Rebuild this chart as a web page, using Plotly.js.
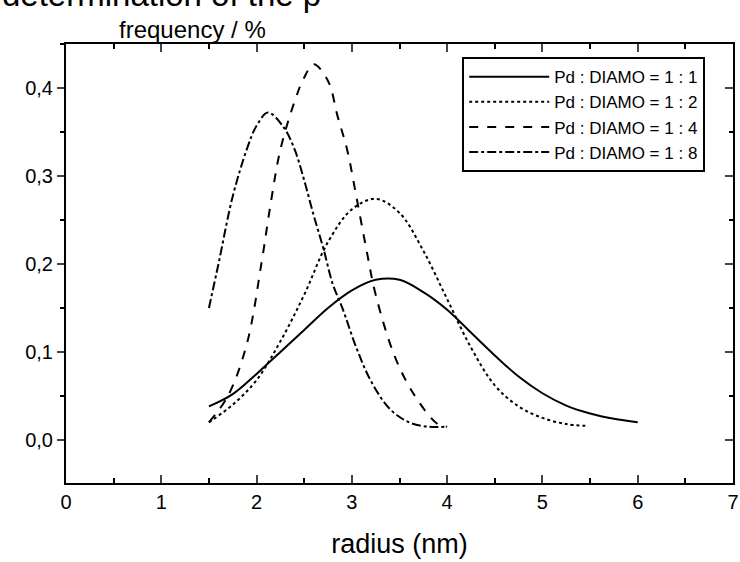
<!DOCTYPE html>
<html>
<head>
<meta charset="utf-8">
<script src="https://cdn.plot.ly/plotly-3.0.1.min.js"></script>
<style>html,body{margin:0;padding:0;background:#fff;}#chart{width:740px;height:562px;}</style>
</head>
<body>
<div id="chart"></div>
<script>
// Pd : DIAMO = 1 : 1 (solid)
const r11 = [1.5, 1.75, 2.0, 2.25, 2.5, 2.75, 3.0, 3.25, 3.5, 3.75, 4.0, 4.25, 4.5, 4.75, 5.0, 5.25, 5.5, 5.75, 6.0];
const f11 = [0.038, 0.052, 0.075, 0.100, 0.125, 0.150, 0.170, 0.182, 0.182, 0.168, 0.148, 0.122, 0.096, 0.072, 0.053, 0.039, 0.030, 0.024, 0.020];
// Pd : DIAMO = 1 : 2 (dotted)
const r12 = [1.5, 1.75, 2.0, 2.25, 2.5, 2.75, 3.0, 3.25, 3.5, 3.75, 4.0, 4.25, 4.5, 4.75, 5.0, 5.25, 5.45];
const f12 = [0.020, 0.040, 0.068, 0.112, 0.165, 0.225, 0.262, 0.274, 0.258, 0.215, 0.160, 0.105, 0.062, 0.038, 0.025, 0.018, 0.016];
// Pd : DIAMO = 1 : 4 (dashed)
const r14 = [1.5, 1.7, 1.9, 2.05, 2.15, 2.25, 2.4, 2.5, 2.6, 2.75, 2.85, 2.95, 3.05, 3.15, 3.25, 3.45, 3.65, 3.9, 4.0];
const f14 = [0.020, 0.050, 0.110, 0.200, 0.270, 0.330, 0.385, 0.412, 0.427, 0.408, 0.368, 0.330, 0.275, 0.218, 0.165, 0.095, 0.052, 0.018, 0.015];
// Pd : DIAMO = 1 : 8 (dash-dot)
const r18 = [1.5, 1.6, 1.75, 1.9, 2.0, 2.12, 2.28, 2.4, 2.5, 2.6, 2.7, 2.8, 2.9, 3.05, 3.2, 3.4, 3.6, 3.8, 4.0];
const f18 = [0.150, 0.200, 0.277, 0.331, 0.357, 0.372, 0.356, 0.330, 0.295, 0.255, 0.218, 0.177, 0.150, 0.104, 0.067, 0.035, 0.020, 0.015, 0.015];

const seriesNames = ["Pd : DIAMO = 1 : 1", "Pd : DIAMO = 1 : 2", "Pd : DIAMO = 1 : 4", "Pd : DIAMO = 1 : 8"];
const xTickVals = [0, 1, 2, 3, 4, 5, 6, 7];
const yTickVals = [0.0, 0.1, 0.2, 0.3, 0.4];

const font = "Liberation Sans, Arial, sans-serif";
function tr(x, y, name, dash) {
  return {x: x, y: y, name: name, type: "scatter", mode: "lines",
          line: {color: "#000", width: 2, dash: dash, shape: "spline", smoothing: 1}};
}
const data = [
  tr(r11, f11, seriesNames[0], "solid"),
  tr(r12, f12, seriesNames[1], "dot"),
  tr(r14, f14, seriesNames[2], "dash"),
  tr(r18, f18, seriesNames[3], "dashdot"),
  {x: [null], y: [null], yaxis: "y2", showlegend: false, type: "scatter"}
];
const layout = {
  width: 740, height: 562,
  margin: {l: 66, r: 7, t: 44, b: 79},
  paper_bgcolor: "#fff", plot_bgcolor: "#fff",
  separators: ",.",
  font: {family: font, color: "#000", size: 16},
  showlegend: true,
  legend: {x: 0.594, y: 0.97, xanchor: "left", yanchor: "top",
           bordercolor: "#000", borderwidth: 2, bgcolor: "#fff",
           font: {family: font, size: 17, color: "#000"},
           tracegroupgap: 0, itemwidth: 80},
  xaxis: {range: [0, 7], tickvals: xTickVals, ticks: "inside", ticklen: 8, tickwidth: 2,
          minor: {dtick: 0.5, ticks: "inside", ticklen: 5, tickwidth: 2, tickcolor: "#000"},
          showline: true, linewidth: 2, linecolor: "#000", mirror: "ticks",
          showgrid: false, zeroline: false, tickfont: {size: 20, family: font},
          title: {text: "radius (nm)", font: {size: 27, family: font}, standoff: 22}},
  yaxis: {range: [-0.049, 0.45], tickvals: yTickVals, tickformat: ".1f",
          ticks: "outside", ticklen: 7, tickwidth: 2,
          minor: {dtick: 0.05, ticks: "outside", ticklen: 4, tickwidth: 2, tickcolor: "#000"},
          showline: true, linewidth: 2, linecolor: "#000", mirror: true,
          showgrid: false, zeroline: false, tickfont: {size: 20, family: font}},
  yaxis2: {range: [-0.049, 0.45], overlaying: "y", side: "right", tickvals: yTickVals,
           showticklabels: false, ticks: "inside", ticklen: 8, tickwidth: 2,
           minor: {dtick: 0.05, ticks: "inside", ticklen: 4, tickwidth: 2, tickcolor: "#000"},
           showline: false, showgrid: false, zeroline: false},
  annotations: [
    {text: "frequency / %", xref: "paper", yref: "paper", x: 0.076, y: 1.032,
     xanchor: "left", yanchor: "middle", showarrow: false,
     font: {size: 24, family: font, color: "#000"}},
    {text: "determination of the p", xref: "paper", yref: "paper", x: -0.099, y: 1.066,
     xanchor: "left", yanchor: "bottom", showarrow: false,
     font: {size: 33, family: font, color: "#000"}}
  ]
};
Plotly.newPlot("chart", data, layout, {displayModeBar: false, staticPlot: true});
</script>
</body>
</html>
